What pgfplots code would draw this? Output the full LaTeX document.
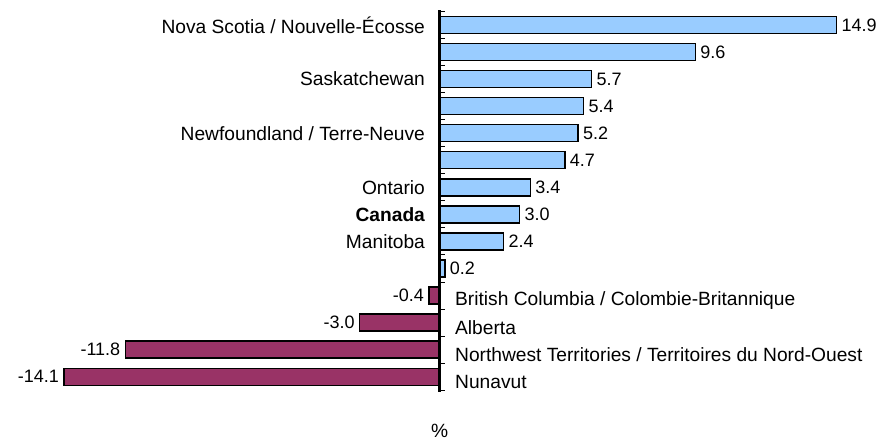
\documentclass[border=0pt]{standalone}
\usepackage{pgfplots}
\pgfplotsset{compat=1.18}
\usepackage{fontspec}
\setmainfont{Liberation Sans}
\definecolor{posbar}{HTML}{99CCFF}
\definecolor{negbar}{HTML}{993366}
\begin{document}
\begin{tikzpicture}
\begin{axis}[
  scale only axis, width=880pt, height=443pt,
  xmin=-16.5, xmax=16.5, ymin=-0.923, ymax=15.435,
  y dir=reverse,
  axis lines=none, ticks=none,
  clip=false,
  /pgf/number format/assume math mode=true,
  xbar, bar width=17pt, bar shift=0pt,
  every node near coord/.append style={font=\fontsize{18}{21}\selectfont, text=black},
  nodes near coords={\pgfmathprintnumber[fixed,fixed zerofill,precision=1,assume math mode=true]{\pgfplotspointmeta}},
  point meta=x,
]
\addplot[fill=posbar, draw=black, line width=1.4pt,
  nodes near coords style={anchor=west, xshift=1pt}] coordinates {
  (14.9,0) (9.6,1) (5.7,2) (5.4,3) (5.2,4) (4.7,5) (3.4,6) (3.0,7) (2.4,8) (0.2,9)
};
\addplot[fill=negbar, draw=black, line width=1.4pt,
  nodes near coords style={anchor=east, xshift=-1pt}] coordinates {
  (-0.4,10) (-3.0,11) (-11.8,12) (-14.1,13)
};
\draw[line width=3pt, black] (axis cs:0,-0.55) -- (axis cs:0,13.55);
\pgfplotsinvokeforeach{-0.5,0.5,...,13.5}{
  \draw[line width=1pt, black] (axis cs:0,#1) -- (axis cs:0.2,#1);
}
\path (rel axis cs:0,0) rectangle (rel axis cs:1,1);
\begin{scope}[every node/.style={font=\fontsize{19.2}{22}\selectfont}]
\node[anchor=east] at (axis cs:-0.42,0) {Nova Scotia / Nouvelle-Écosse};
\node[anchor=east] at (axis cs:-0.42,2) {Saskatchewan};
\node[anchor=east] at (axis cs:-0.42,4) {Newfoundland / Terre-Neuve};
\node[anchor=east] at (axis cs:-0.42,6) {Ontario};
\node[anchor=east] at (axis cs:-0.42,7) {\bfseries Canada};
\node[anchor=east] at (axis cs:-0.42,8) {Manitoba};
\node[anchor=west] at (axis cs:0.45,10.2) {British Columbia / Colombie-Britannique};
\node[anchor=west] at (axis cs:0.45,11.2) {Alberta};
\node[anchor=west] at (axis cs:0.45,12.2) {Northwest Territories / Territoires du Nord-Ouest};
\node[anchor=west] at (axis cs:0.45,13.2) {Nunavut};
\node at (axis cs:0,15.0) {\%};
\end{scope}
\end{axis}
\end{tikzpicture}
\end{document}
